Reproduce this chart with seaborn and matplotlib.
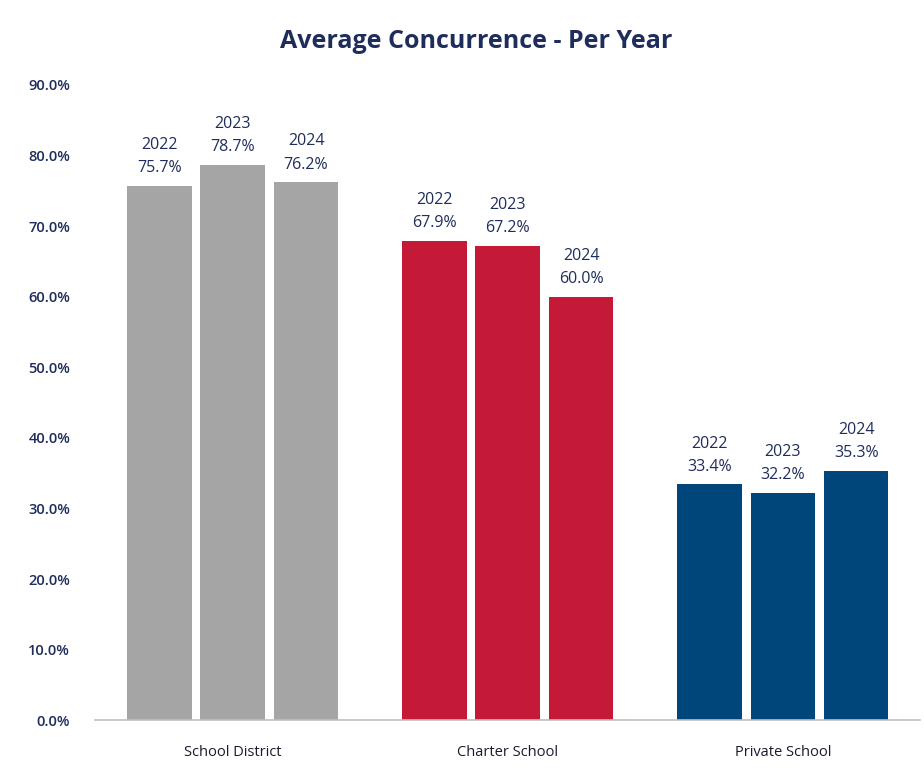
import matplotlib
matplotlib.use("Agg")
import matplotlib.pyplot as plt
import seaborn as sns
import pandas as pd

categories = ["School District", "Charter School", "Private School"]
years = ["2022", "2023", "2024"]
values = {
    "School District": [75.7, 78.7, 76.2],
    "Charter School": [67.9, 67.2, 60.0],
    "Private School": [33.4, 32.2, 35.3],
}
cat_colors = ["#a5a5a5", "#c41a38", "#00467a"]
yticks = [0, 10, 20, 30, 40, 50, 60, 70, 80, 90]

rows = []
for c in categories:
    for y, v in zip(years, values[c]):
        rows.append({"category": c, "year": y, "value": v})
df = pd.DataFrame(rows)

sns.set_theme(style="white")
plt.rcParams["font.family"] = ["Open Sans", "DejaVu Sans"]

fig = plt.figure(figsize=(9.24, 7.72), dpi=100)
ax = fig.add_axes([0.103, 0.067, 0.893, 0.823])

sns.barplot(data=df, x="category", y="value", hue="year", order=categories,
            hue_order=years, width=0.8, gap=0.12, ax=ax, legend=False,
            saturation=1, errorbar=None)

text_color = "#1f2d5c"
for hi, cont in enumerate(ax.containers):
    for ci, bar in enumerate(cont):
        bar.set_facecolor(cat_colors[ci])
        bar.set_edgecolor("none")
    labels = [f"{years[hi]}\n{values[c][hi]:.1f}%" for c in categories]
    ax.bar_label(cont, labels=labels, padding=7, fontsize=11.5,
                 color=text_color, linespacing=1.6)

ax.set_ylim(0, 90)
ax.set_xlim(-0.5, 2.5)
ax.set_yticks(yticks)
ax.set_yticklabels([f"{t:.1f}%" for t in yticks], fontsize=10.5,
                   color=text_color, fontweight="semibold")
ax.set_xticklabels(categories, fontsize=10.5, color="#1a1a2e",
                   fontweight="medium")
ax.set_xlabel("")
ax.set_ylabel("")
for s in ["top", "right", "left"]:
    ax.spines[s].set_visible(False)
ax.spines["bottom"].set_color("#bfbfbf")
ax.spines["bottom"].set_linewidth(1.2)
ax.tick_params(axis="both", length=0)
ax.tick_params(axis="y", pad=18)
ax.tick_params(axis="x", pad=18)

fig.suptitle("Average Concurrence - Per Year", x=0.515, y=0.946, va="center",
             fontsize=18, fontweight="bold", color=text_color)

fig.savefig("out.png", dpi=100)
